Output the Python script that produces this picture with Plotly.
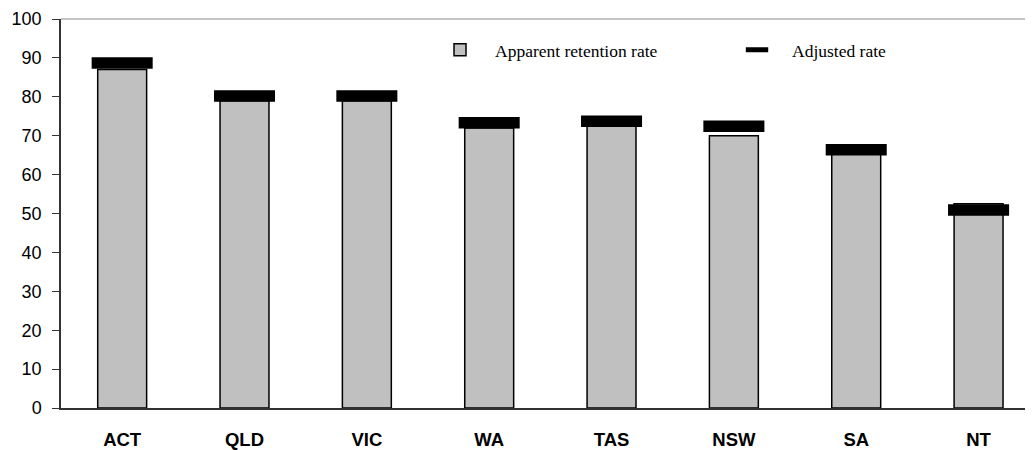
import plotly.graph_objects as go

states = ["ACT", "QLD", "VIC", "WA", "TAS", "NSW", "SA", "NT"]
apparent_rate = [87.0, 79.0, 79.0, 72.0, 72.5, 70.0, 65.5, 52.5]
adjusted_rate = [88.7, 80.2, 80.2, 73.3, 73.7, 72.4, 66.4, 50.9]
y_ticks = [0, 10, 20, 30, 40, 50, 60, 70, 80, 90, 100]

fig = go.Figure()
fig.add_trace(go.Bar(
    x=states, y=apparent_rate, name="Apparent retention rate",
    width=0.4,
    marker=dict(color="#C0C0C0", line=dict(color="#000000", width=1.5)),
))
fig.add_trace(go.Scatter(
    x=states, y=adjusted_rate, name="Adjusted rate", mode="markers",
    marker=dict(symbol="line-ew", size=43.6, color="#000000",
                line=dict(color="#000000", width=11.5)),
))

# the page body has an 8px margin, so the figure is sized/margined to compensate
fig.update_layout(
    width=1025, height=442,
    margin=dict(l=53, r=0, t=11, b=41.5, autoexpand=False),
    paper_bgcolor="white", plot_bgcolor="white",
    showlegend=True,
    legend=dict(
        orientation="h", x=0.3745, y=0.967, xanchor="left", yanchor="top",
        font=dict(family="Liberation Serif, Times New Roman, serif", size=17.5, color="#000"),
        bgcolor="rgba(0,0,0,0)", itemwidth=60,
        entrywidth=222, entrywidthmode="pixels",
        traceorder="normal",
    ),
    xaxis=dict(
        range=[-0.5, 7.445], showgrid=False, zeroline=False,
        showline=True, linecolor="#333333", linewidth=1.5,
        ticks="", tickfont=dict(family="Arial, Liberation Sans, sans-serif", size=18.5, color="#000"),
        ticklabelstandoff=14,
    ),
    yaxis=dict(
        range=[0, 100], tickvals=y_ticks, showgrid=False, zeroline=False,
        showline=True, linecolor="#333333", linewidth=1.5,
        ticks="outside", ticklen=7, tickcolor="#333333", tickwidth=1,
        tickfont=dict(family="Arial, Liberation Sans, sans-serif", size=18, color="#000"),
        ticklabelstandoff=7,
    ),
    font=dict(family="Arial, Liberation Sans, sans-serif"),
)
# bold category labels
fig.update_xaxes(tickvals=states, ticktext=[f"<b>{s}</b>" for s in states])
# grey frame line along the top of the plot area
fig.add_shape(type="line", xref="paper", yref="paper", x0=0, x1=1, y0=1, y1=1,
              line=dict(color="#8a8a8a", width=1.2))

fig.write_html("out.html")
